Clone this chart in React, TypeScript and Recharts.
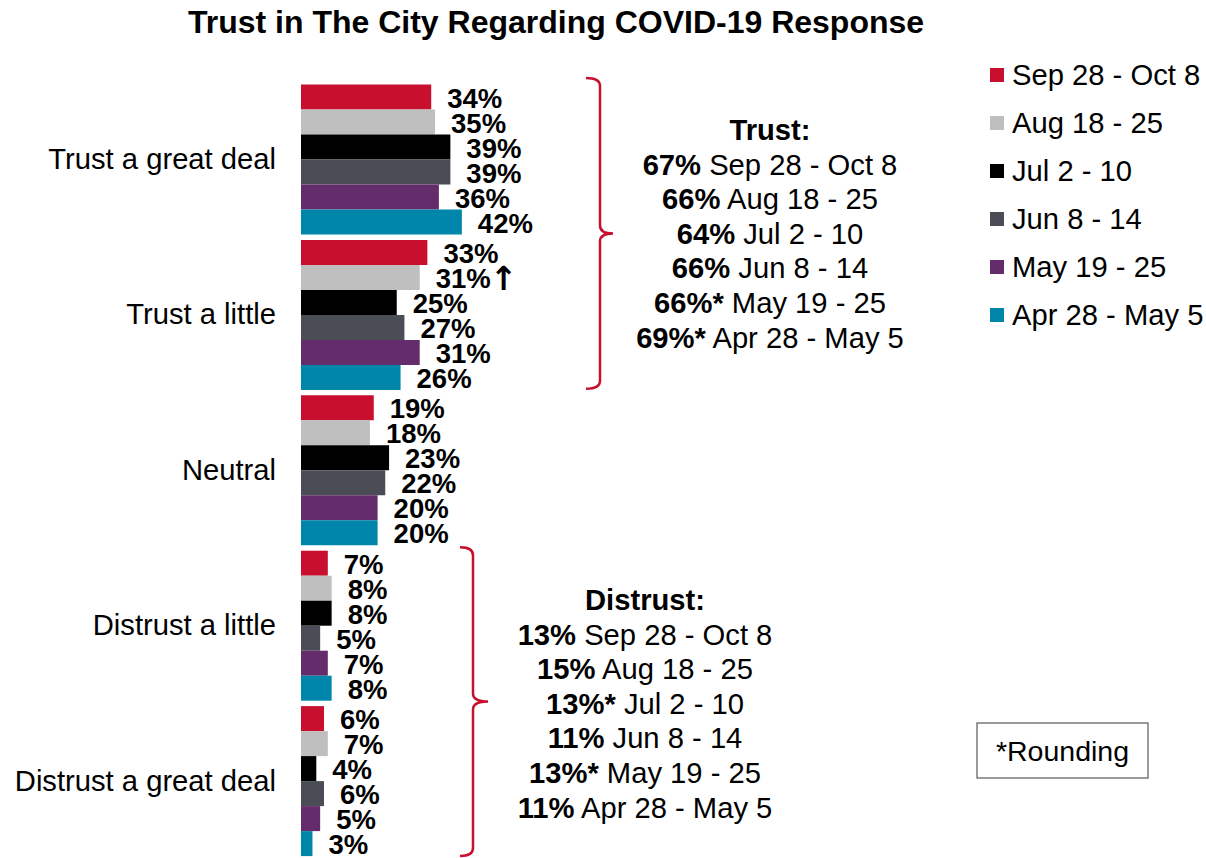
import React from "react";
import { BarChart, Bar, XAxis, YAxis, Legend, LabelList } from "recharts";

const categories = ["Trust a great deal", "Trust a little", "Neutral", "Distrust a little", "Distrust a great deal"];
const periods = ["Sep 28 - Oct 8", "Aug 18 - 25", "Jul 2 - 10", "Jun 8 - 14", "May 19 - 25", "Apr 28 - May 5"];
const seriesKeys = ["sep", "aug", "jul", "jun", "may", "apr"];
const colors = ["#C8102E", "#BFBFBF", "#000000", "#4A4D55", "#642C6B", "#0086AB"];

const sepValues = [34, 33, 19, 7, 6];
const augValues = [35, 31, 18, 8, 7];
const julValues = [39, 25, 23, 8, 4];
const junValues = [39, 27, 22, 5, 6];
const mayValues = [36, 31, 20, 7, 5];
const aprValues = [42, 26, 20, 8, 3];
const augMarks = ["", "↑", "", "", ""];

const trustTotals = [67, 66, 64, 66, 66, 69];
const trustRounded = [false, false, false, false, true, true];
const distrustTotals = [13, 15, 13, 11, 13, 11];
const distrustRounded = [false, false, true, false, true, false];

const xDomain = [0, 100];
const boundaryTicks = [0, 1, 2, 3, 4, 5];

const allValues = [sepValues, augValues, julValues, junValues, mayValues, aprValues];
const allMarks = [[], augMarks, [], [], [], []] as string[][];
const ARROW = "↑";

const data = categories.map((name, i) => {
  const row: Record<string, any> = { name };
  seriesKeys.forEach((k, s) => {
    row[k] = allValues[s][i];
    row[k + "Label"] = `${allValues[s][i]}%${allMarks[s][i] || ""}`;
  });
  return row;
});

const FONT = "'Liberation Sans', Arial, Helvetica, sans-serif";
const W = 1206;
const H = 858;
const PLOT_TOP = 81;
const PLOT_LEFT = 301;
const PLOT_RIGHT_MARGIN = 522;
const BAND = (H - PLOT_TOP) / categories.length;
const TXT = 29.2;

const LegendContent = (props: any) => {
  const payload = [...(props.payload || [])].sort(
    (a: any, b: any) => periods.indexOf(a.value) - periods.indexOf(b.value)
  );
  return (
    <div style={{ fontFamily: FONT }}>
      {payload.map((p: any, i: number) => (
        <div key={i} style={{ height: 48, display: "flex", alignItems: "center" }}>
          <span style={{ display: "inline-block", width: 14, height: 14, background: p.color, marginRight: 8 }} />
          <span style={{ fontSize: TXT, color: "#000", whiteSpace: "nowrap", lineHeight: "48px" }}>{p.value}</span>
        </div>
      ))}
    </div>
  );
};

const BarValueLabel = (props: any) => {
  const { x, y, width, height, value } = props;
  const str = String(value);
  const hasArrow = str.endsWith(ARROW);
  const base = hasArrow ? str.slice(0, -ARROW.length) : str;
  return (
    <text
      x={Number(x) + Number(width) + 16}
      y={Number(y) + Number(height) / 2 + 1}
      dominantBaseline="central"
      fontSize={27.5}
      fontWeight="bold"
      fill="#000"
      fontFamily={FONT}
    >
      {base}
      {hasArrow ? (
        <tspan fontFamily="'DejaVu Sans', sans-serif" fontWeight="bold" fontSize={33} dx={-1}>
          {ARROW}
        </tspan>
      ) : null}
    </text>
  );
};

function bracketPath(x: number, top: number, bottom: number, curl: number, tip: number) {
  const mid = (top + bottom) / 2;
  return [
    `M ${x - curl} ${top}`,
    `Q ${x} ${top} ${x} ${top + 8}`,
    `L ${x} ${mid - 8}`,
    `Q ${x} ${mid} ${x + tip} ${mid}`,
    `Q ${x} ${mid} ${x} ${mid + 8}`,
    `L ${x} ${bottom - 8}`,
    `Q ${x} ${bottom} ${x - curl} ${bottom}`,
  ].join(" ");
}

export default function App() {
  const lineH = 34.6;
  return (
    <div style={{ position: "absolute", left: 0, top: 0, width: W, height: H, background: "#fff" }}>
      <BarChart
        width={W}
        height={H}
        data={data}
        layout="vertical"
        margin={{ top: PLOT_TOP, right: PLOT_RIGHT_MARGIN, bottom: 0, left: 0 }}
        barCategoryGap={3.5}
        barGap={0}
      >
        <XAxis type="number" domain={xDomain} hide />
        <YAxis
          yAxisId="bounds"
          type="number"
          domain={[0, 5]}
          ticks={boundaryTicks}
          interval={0}
          allowDataOverflow
          width={0}
          tick={false}
          tickSize={8}
          axisLine={{ stroke: "#A6A6A6", strokeWidth: 1.5 }}
          tickLine={{ stroke: "#A6A6A6", strokeWidth: 1.5 }}
        />
        <YAxis
          yAxisId="cat"
          type="category"
          dataKey="name"
          width={PLOT_LEFT}
          axisLine={false}
          tickLine={false}
          tickSize={0}
          tickMargin={25}
          tick={{ fontSize: TXT, fill: "#000", fontFamily: FONT }}
        />
        <Legend
          layout="vertical"
          align="center"
          verticalAlign="middle"
          content={<LegendContent />}
          wrapperStyle={{ position: "absolute", top: 51, left: 990, width: 216 }}
        />
        {seriesKeys.map((k, s) => (
          <Bar key={k} dataKey={k} name={periods[s]} yAxisId="cat" fill={colors[s]} isAnimationActive={false}>
            <LabelList dataKey={k + "Label"} position="right" content={<BarValueLabel />} />
          </Bar>
        ))}
      </BarChart>
      <svg
        width={W}
        height={H}
        style={{ position: "absolute", left: 0, top: 0, pointerEvents: "none", fontFamily: FONT }}
      >
        <text x={556} y={22} textAnchor="middle" dominantBaseline="central" fontSize={32} fontWeight="bold" fill="#000">
          Trust in The City Regarding COVID-19 Response
        </text>

        <path
          d={bracketPath(600, PLOT_TOP - 3, PLOT_TOP + 2 * BAND - 3, 14, 13)}
          fill="none"
          stroke="#C8102E"
          strokeWidth={2.5}
        />
        <path
          d={bracketPath(473, PLOT_TOP + 3 * BAND, PLOT_TOP + 5 * BAND - 2, 13, 15)}
          fill="none"
          stroke="#C8102E"
          strokeWidth={2.5}
        />

        <text x={770} y={130} textAnchor="middle" dominantBaseline="central" fontSize={TXT} fill="#000" fontWeight="bold">
          Trust:
        </text>
        {periods.map((p, i) => (
          <text key={"t" + i} x={770} y={130 + lineH * (i + 1)} textAnchor="middle" dominantBaseline="central" fontSize={TXT} fill="#000">
            <tspan fontWeight="bold">{`${trustTotals[i]}%${trustRounded[i] ? "*" : ""}`}</tspan>
            {` ${p}`}
          </text>
        ))}

        <text x={645} y={600} textAnchor="middle" dominantBaseline="central" fontSize={TXT} fill="#000" fontWeight="bold">
          Distrust:
        </text>
        {periods.map((p, i) => (
          <text key={"d" + i} x={645} y={600 + lineH * (i + 1)} textAnchor="middle" dominantBaseline="central" fontSize={TXT} fill="#000">
            <tspan fontWeight="bold">{`${distrustTotals[i]}%${distrustRounded[i] ? "*" : ""}`}</tspan>
            {` ${p}`}
          </text>
        ))}

        <rect x={977} y={723} width={171} height={55} fill="#fff" stroke="#595959" strokeWidth={1.2} />
        <text x={1062.5} y={751} textAnchor="middle" dominantBaseline="central" fontSize={28.5} fill="#000">
          *Rounding
        </text>
      </svg>
    </div>
  );
}
